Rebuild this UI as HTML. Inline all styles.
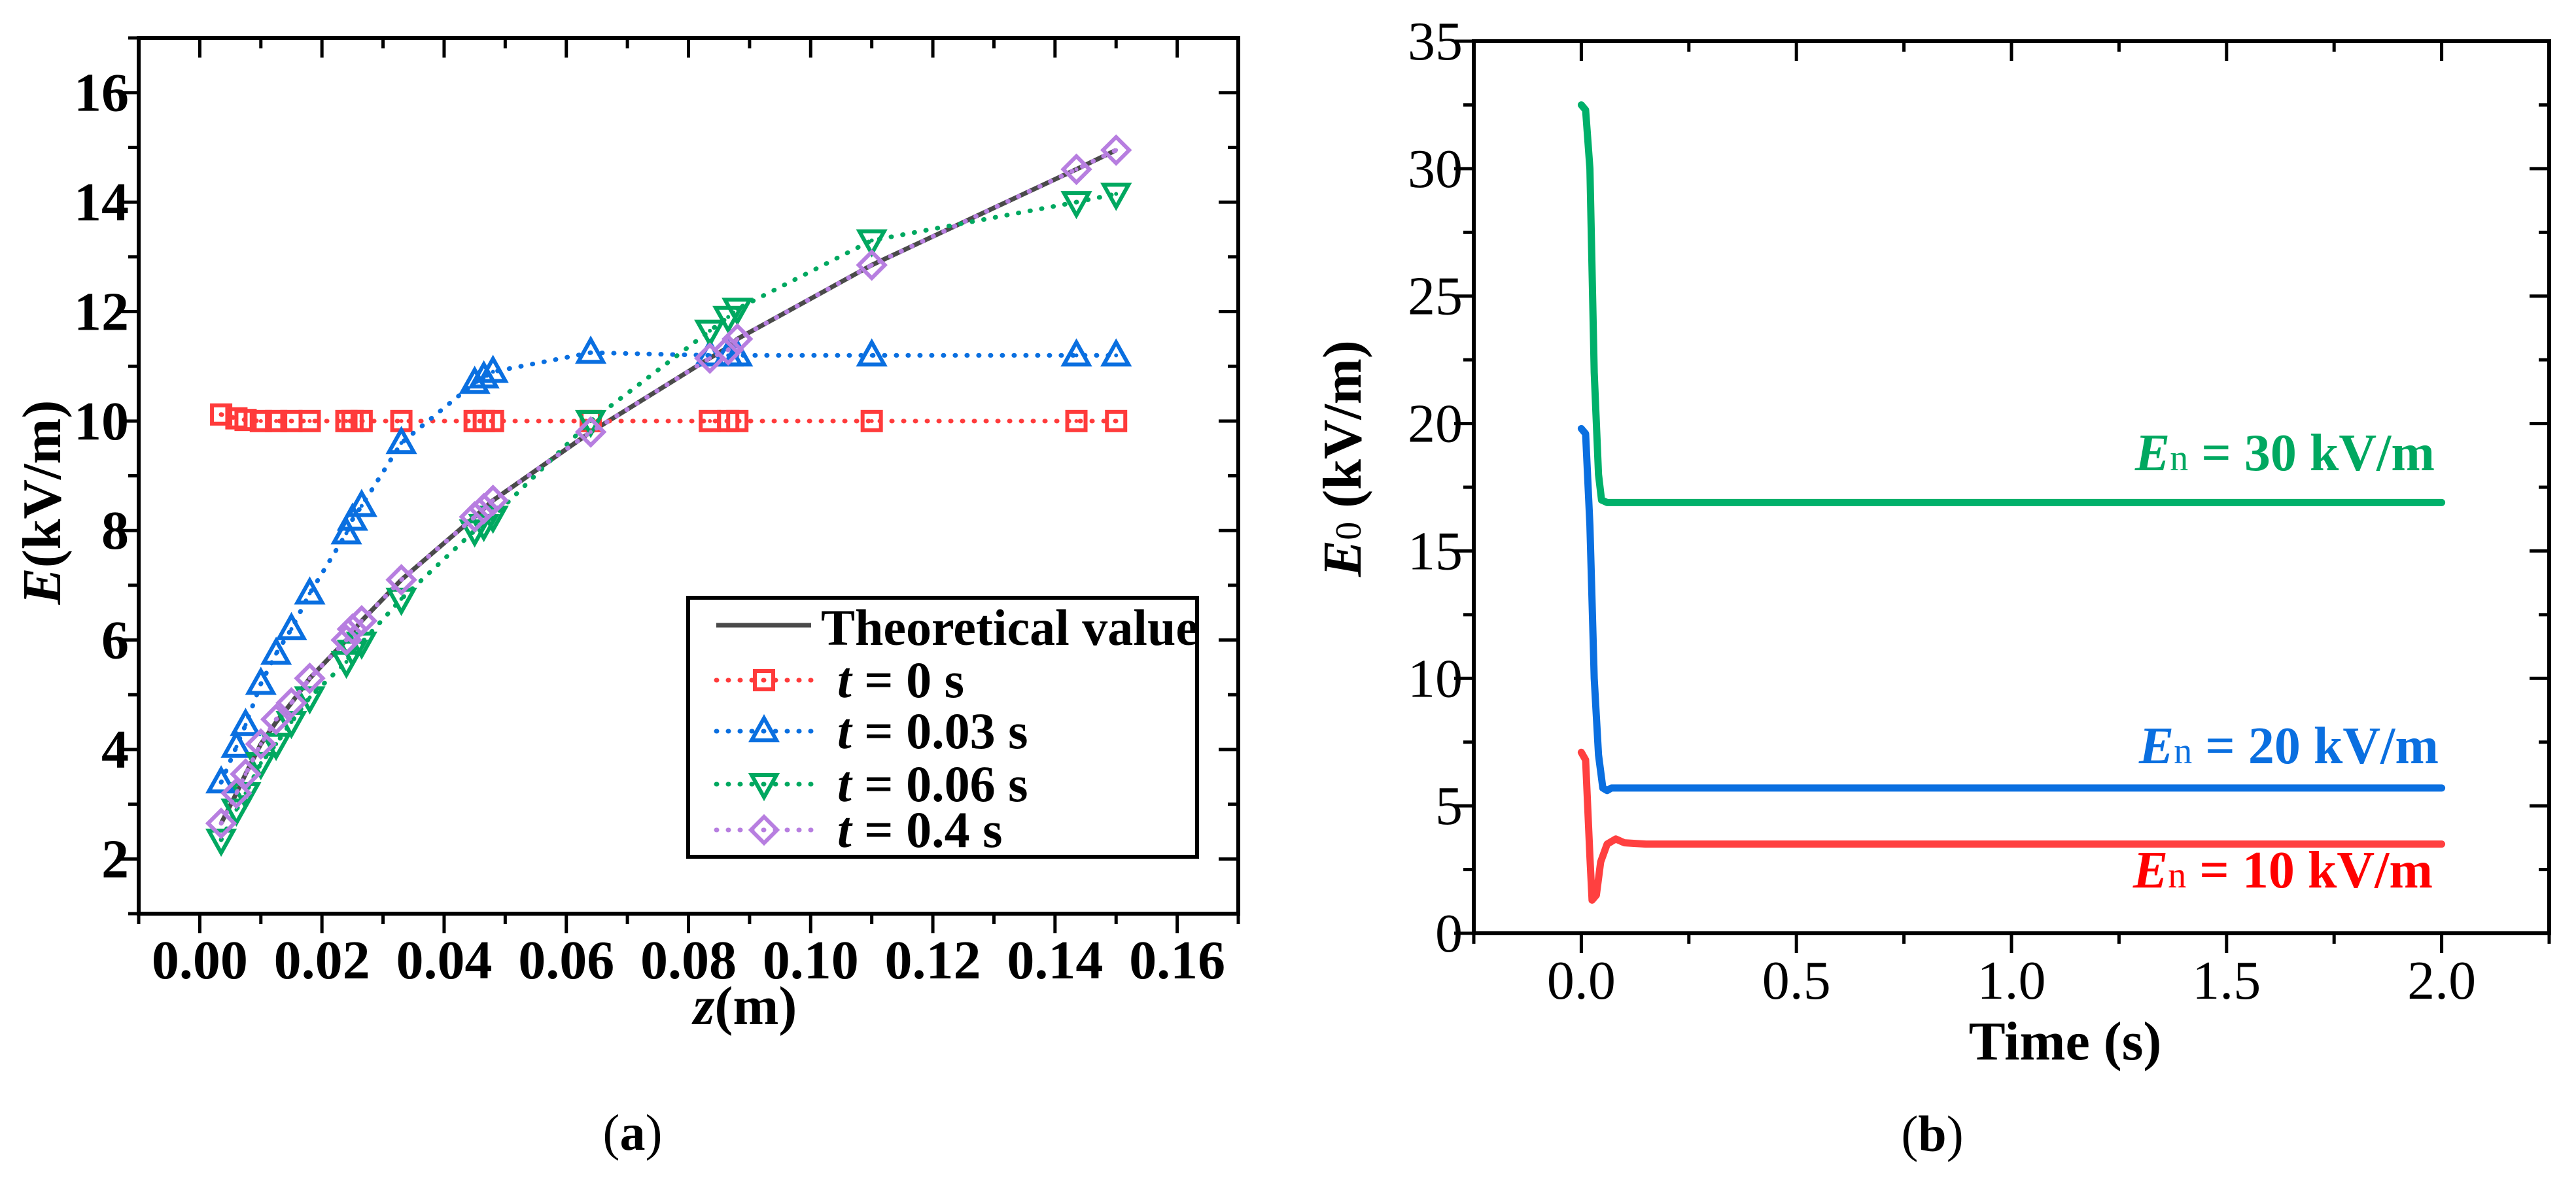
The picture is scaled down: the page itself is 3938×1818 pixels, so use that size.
<!DOCTYPE html>
<html><head><meta charset="utf-8"><style>
html,body{margin:0;padding:0;background:#fff;}
svg, svg text{font-family:"Liberation Serif","DejaVu Serif",serif;}
</style></head><body>
<svg id="svg" width="3938" height="1813" viewBox="0 0 3938 1813" xmlns="http://www.w3.org/2000/svg" font-family="Liberation Serif, DejaVu Serif, serif"></svg>
<script>
// ---- Chart (a) data ----
const zVals = [0.0035,0.006,0.0075,0.01,0.0125,0.015,0.018,0.024,0.025,0.0265,0.033,0.045,0.0465,0.048,0.064,0.0835,0.0865,0.088,0.11,0.1435,0.15];
const theoVals = [2.65,3.2,3.55,4.1,4.5,4.85,5.3,6.0,6.15,6.35,7.1,8.25,8.4,8.55,9.8,11.15,11.35,11.5,12.85,14.6,14.95];
const t0Vals = [10.12,10.05,10.02,10,10,10,10,10,10,10,10,10,10,10,10,10,10,10,10,10,10];
const t003Vals = [3.4,4.05,4.45,5.2,5.75,6.2,6.85,7.95,8.2,8.45,9.6,10.7,10.8,10.9,11.25,11.2,11.2,11.2,11.2,11.2,11.2];
const t006Vals = [2.35,2.9,3.2,3.75,4.1,4.5,4.95,5.6,5.8,5.95,6.75,8.0,8.1,8.25,10.0,11.65,11.9,12.05,13.3,14.0,14.15];
const t04Vals = [2.65,3.2,3.55,4.1,4.55,4.85,5.3,6.0,6.2,6.35,7.1,8.25,8.4,8.55,9.8,11.15,11.3,11.5,12.85,14.6,14.95];
const aXTicks = ["0.00","0.02","0.04","0.06","0.08","0.10","0.12","0.14","0.16"];
const aYTicks = ["2","4","6","8","10","12","14","16"];
// ---- Chart (b) data ----
const greenT = [0,0.01,0.02,0.03,0.04,0.047,0.06,2];
const greenV = [32.5,32.3,30,22,18,17,16.9,16.9];
const blueT = [0,0.01,0.02,0.03,0.04,0.05,0.06,0.07,2];
const blueV = [19.8,19.6,16,10,7,5.7,5.6,5.7,5.7];
const redT = [0,0.01,0.02,0.025,0.035,0.045,0.06,0.08,0.1,0.15,2];
const redV = [7.1,6.8,3,1.3,1.5,2.8,3.5,3.7,3.55,3.5,3.5];
const bXTicks = ["0.0","0.5","1.0","1.5","2.0"];
const bYTicks = ["0","5","10","15","20","25","30","35"];

const NS="http://www.w3.org/2000/svg";
const FONT='"Liberation Serif","DejaVu Serif",serif';
const svg=document.getElementById('svg');
function el(tag,attrs,parent,text){const e=document.createElementNS(NS,tag);for(const k in attrs)e.setAttribute(k,attrs[k]);if(tag==='text')e.style.fontFamily=FONT;if(text!==undefined)e.textContent=text;(parent||svg).appendChild(e);return e;}

// ===== Chart (a) =====
const A={l:212,r:1893,t:58,b:1397,x0:-0.01,x1:0.17,y0:1,y1:17};
const ax=v=>A.l+(v-A.x0)/(A.x1-A.x0)*(A.r-A.l);
const ay=v=>A.b-(v-A.y0)/(A.y1-A.y0)*(A.b-A.t);
const gA=el('g',{});


const frameA=el('rect',{x:A.l,y:A.t,width:A.r-A.l,height:A.b-A.t,fill:'none',stroke:'#000','stroke-width':6},gA);


for(let i=-1;i<=17;i++){const v=i*0.01;const x=ax(v);const major=i%2===0;
 el('line',{x1:x,y1:A.b,x2:x,y2:A.b+(major?30:16),stroke:'#000','stroke-width':5},gA);
 el('line',{x1:x,y1:A.t,x2:x,y2:A.t+(major?30:16),stroke:'#000','stroke-width':5},gA);}
aXTicks.forEach(s=>{const t=el('text',{x:ax(parseFloat(s)),y:1496,'font-size':84,'font-weight':'bold','text-anchor':'middle'},gA,s);
 
 });
for(let v=1;v<=17;v++){const y=ay(v);const major=v%2===0;
 el('line',{x1:A.l,y1:y,x2:A.l-(major?30:16),y2:y,stroke:'#000','stroke-width':5},gA);
 el('line',{x1:A.r,y1:y,x2:A.r-(major?30:16),y2:y,stroke:'#000','stroke-width':5},gA);}
aYTicks.forEach(s=>{const t=el('text',{x:197,y:ay(parseFloat(s))+28,'font-size':84,'font-weight':'bold','text-anchor':'end'},gA,s);
 
 });
const xta=el('text',{x:1139,y:1566,'font-size':84,'font-weight':'bold','text-anchor':'middle'},gA);


el('tspan',{'font-style':'italic'},xta,'z');el('tspan',{},xta,'(m)');
const yta=el('text',{x:0,y:0,'font-size':84,'font-weight':'bold','text-anchor':'middle',transform:'translate(92,768) rotate(-90)'},gA);


el('tspan',{'font-style':'italic'},yta,'E');el('tspan',{},yta,'(kV/m)');

function marker(kind,x,y,color,parent){
 const s=14;let e;
 if(kind==='sq'){e=el('rect',{x:x-s,y:y-s,width:2*s,height:2*s,fill:'none',stroke:color,'stroke-width':6},parent);}
 else if(kind==='up'){e=el('polygon',{points:`${x},${y-20} ${x+19},${y+14} ${x-19},${y+14}`,fill:'none',stroke:color,'stroke-width':6},parent);}
 else if(kind==='down'){e=el('polygon',{points:`${x},${y+20} ${x+19},${y-14} ${x-19},${y-14}`,fill:'none',stroke:color,'stroke-width':6},parent);}
 else {e=el('polygon',{points:`${x},${y-20} ${x+20},${y} ${x},${y+20} ${x-20},${y}`,fill:'none',stroke:color,'stroke-width':6},parent);}
 el('circle',{cx:x,cy:y,r:3,fill:color},parent);
 return e;}
function series(vals,color,kind,name){
 const g=el('g',{},gA);
 
 
 el('polyline',{points:zVals.map((z,i)=>ax(z)+','+ay(vals[i])).join(' '),fill:'none',stroke:color,'stroke-width':7,'stroke-dasharray':'1 17','stroke-linecap':'round'},g);
 zVals.forEach((z,i)=>{const m=marker(kind,ax(z),ay(vals[i]),color,g);
  
  });}
const theo=el('polyline',{points:zVals.map((z,i)=>ax(z)+','+ay(theoVals[i])).join(' '),fill:'none',stroke:'#4a4a4a','stroke-width':7},gA);


series(t0Vals,'#ff3b3b','sq','series-t0');
series(t003Vals,'#0a6fe0','up','series-t003');
series(t006Vals,'#00a860','down','series-t006');
series(t04Vals,'#b77ee0','dia','series-t04');

// legend
const lg=el('g',{},gA);


el('rect',{x:1052,y:914,width:778,height:396,fill:'#fff',stroke:'#000','stroke-width':6},lg);
const legRows=[['Theoretical value','#4a4a4a',null,964],['0 s','#ff3b3b','sq',1040],['0.03 s','#0a6fe0','up',1118],['0.06 s','#00a860','down',1199],['0.4 s','#b77ee0','dia',1269]];
legRows.forEach((r,i)=>{const g=el('g',{},lg);
 
 
 const y=r[3];
 if(i===0){el('line',{x1:1095,y1:y-8,x2:1240,y2:y-8,stroke:r[1],'stroke-width':7},g);
  el('text',{x:1255,y:y+22,'font-size':78,'font-weight':'bold'},g,r[0]);}
 else{el('line',{x1:1095,y1:y,x2:1245,y2:y,stroke:r[1],'stroke-width':7,'stroke-dasharray':'1 17','stroke-linecap':'round'},g);
  marker(r[2],1168,y,r[1],g);
  const t=el('text',{x:1280,y:y+26,'font-size':78,'font-weight':'bold'},g);
  el('tspan',{'font-style':'italic'},t,'t');el('tspan',{},t,' = '+r[0]);}
});
const capA=el('text',{x:967,y:1758,'font-size':78,'text-anchor':'middle'},svg);


el('tspan',{},capA,'(');el('tspan',{'font-weight':'bold'},capA,'a');el('tspan',{},capA,')');

// ===== Chart (b) =====
const B={l:2253,r:3897,t:63,b:1427,x0:-0.25,x1:2.25,y0:0,y1:35};
const bx=v=>B.l+(v-B.x0)/(B.x1-B.x0)*(B.r-B.l);
const by=v=>B.b-(v-B.y0)/(B.y1-B.y0)*(B.b-B.t);
const gB=el('g',{});


const frameB=el('rect',{x:B.l,y:B.t,width:B.r-B.l,height:B.b-B.t,fill:'none',stroke:'#000','stroke-width':6},gB);


for(let i=-1;i<=9;i++){const v=i*0.25;const x=bx(v);const major=i%2===0;
 el('line',{x1:x,y1:B.b,x2:x,y2:B.b+(major?30:16),stroke:'#000','stroke-width':5},gB);
 el('line',{x1:x,y1:B.t,x2:x,y2:B.t+(major?30:16),stroke:'#000','stroke-width':5},gB);}
bXTicks.forEach(s=>{const t=el('text',{x:bx(parseFloat(s)),y:1527,'font-size':84,'text-anchor':'middle'},gB,s);
 
 });
for(let i=0;i<=14;i++){const v=i*2.5;const y=by(v);const major=i%2===0;
 el('line',{x1:B.l,y1:y,x2:B.l-(major?30:16),y2:y,stroke:'#000','stroke-width':5},gB);
 el('line',{x1:B.r,y1:y,x2:B.r-(major?30:16),y2:y,stroke:'#000','stroke-width':5},gB);}
bYTicks.forEach(s=>{const t=el('text',{x:2236,y:by(parseFloat(s))+28,'font-size':84,'text-anchor':'end'},gB,s);
 
 });
const xtb=el('text',{x:3157,y:1620,'font-size':84,'font-weight':'bold','text-anchor':'middle'},gB,'Time (s)');


const ytb=el('text',{x:0,y:0,'font-size':84,'font-weight':'bold','text-anchor':'middle',transform:'translate(2080,701) rotate(-90)'},gB);


el('tspan',{'font-style':'italic'},ytb,'E');el('tspan',{'font-size':56,'font-weight':'normal'},ytb,'0');el('tspan',{},ytb,' (kV/m)');
function curve(T,V,color,name){const p=el('polyline',{points:T.map((t,i)=>bx(t)+','+by(V[i])).join(' '),fill:'none',stroke:color,'stroke-width':11,'stroke-linejoin':'round','stroke-linecap':'round'},gB);
 
 }
curve(redT,redV,'#ff4040','curve-en-10');
curve(blueT,blueV,'#0a6fe0','curve-en-20');
curve(greenT,greenV,'#00b06a','curve-en-30');
function lab(x,y,color,val,name){const t=el('text',{x:x,y:y,'font-size':80,'font-weight':'bold','text-anchor':'end',fill:color},gB);
 
 
 el('tspan',{'font-style':'italic'},t,'E');el('tspan',{'font-size':56,'font-weight':'normal'},t,'n');el('tspan',{},t,' = '+val+' kV/m');}
lab(3722,719,'#00a860','30','label-en-30');
lab(3728,1167,'#0a6fe0','20','label-en-20');
lab(3719,1357,'#ff0000','10','label-en-10');
const capB=el('text',{x:2954,y:1760,'font-size':78,'text-anchor':'middle'},svg);


el('tspan',{},capB,'(');el('tspan',{'font-weight':'bold'},capB,'b');el('tspan',{},capB,')');
</script>
</body></html>
